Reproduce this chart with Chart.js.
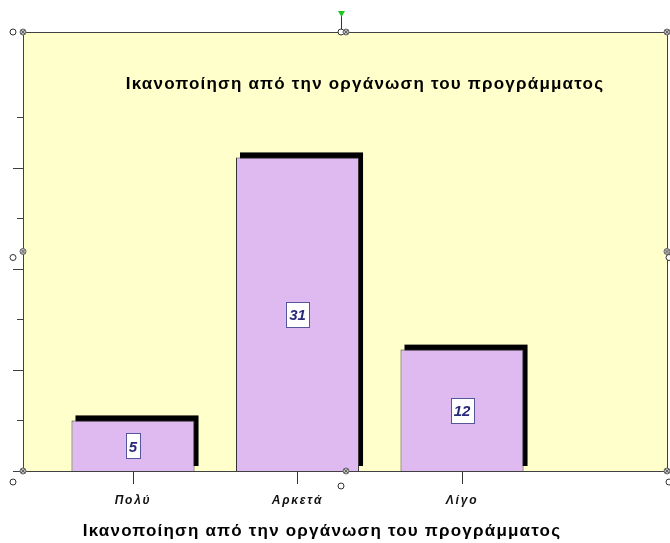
<!DOCTYPE html>
<html>
<head>
<meta charset="utf-8">
<script src="https://cdn.jsdelivr.net/npm/chart.js@4.4.1/dist/chart.umd.min.js"></script>
<style>
  body { margin: 0; background: #fff; }
</style>
</head>
<body>
<canvas id="chart" width="670" height="543"></canvas>
<script>
const categories = ["Πολύ", "Αρκετά", "Λίγο"];
const counts = [5, 31, 12];
const yTickValues = [0, 5, 10, 15, 20, 25, 30, 35];
const chartTitle = "Ικανοποίηση από την οργάνωση του προγράμματος";
const axisTitle = "Ικανοποίηση από την οργάνωση του προγράμματος";

// frame, shadows, value boxes, titles and the little editor handles
const decorations = {
  id: "decorations",
  beforeDraw(chart) {
    const ctx = chart.ctx;
    const a = chart.chartArea;
    ctx.letterSpacing = "1.8px";
    ctx.save();
    ctx.fillStyle = "#FFFFCC";
    ctx.fillRect(a.left, a.top, a.right - a.left, a.bottom - a.top);
    ctx.restore();
  },
  beforeDatasetsDraw(chart) {
    const ctx = chart.ctx;
    const meta = chart.getDatasetMeta(0);
    ctx.save();
    ctx.fillStyle = "#000";
    meta.data.forEach((bar) => {
      const w = bar.width;
      ctx.fillRect(bar.x - w / 2 + 4, bar.y - 5, w, bar.base - bar.y);
    });
    ctx.restore();
  },
  afterDatasetsDraw(chart) {
    const ctx = chart.ctx;
    const meta = chart.getDatasetMeta(0);
    ctx.save();
    ctx.letterSpacing = "0px";
    ctx.font = "italic bold 15px 'Liberation Sans', Arial, sans-serif";
    ctx.textAlign = "center";
    ctx.textBaseline = "middle";
    meta.data.forEach((bar, i) => {
      const txt = String(counts[i]);
      const cx = bar.x;
      const cy = (bar.y + bar.base) / 2;
      const tw = ctx.measureText(txt).width;
      const bw = Math.round(tw + 6);
      const bh = 25;
      const bx = Math.round(cx - bw / 2) + 0.5;
      const by = Math.round(cy - bh / 2) + 0.5;
      ctx.fillStyle = "#fff";
      ctx.fillRect(bx, by, bw, bh);
      ctx.strokeStyle = "#55559a";
      ctx.lineWidth = 1;
      ctx.strokeRect(bx, by, bw, bh);
      ctx.fillStyle = "#2a2a7a";
      ctx.fillText(txt, cx, cy + 2);
    });
    ctx.restore();
  },
  afterDraw(chart) {
    const ctx = chart.ctx;
    const a = chart.chartArea;
    const y = chart.scales.y;
    ctx.save();
    // plot frame
    ctx.strokeStyle = "#404040";
    ctx.lineWidth = 1;
    ctx.strokeRect(Math.round(a.left) + 0.5, Math.round(a.top) + 0.5,
      Math.round(a.right - a.left), Math.round(a.bottom - a.top));
    // y ticks, long on tens
    yTickValues.forEach((v) => {
      const py = Math.round(y.getPixelForValue(v)) + 0.5;
      const len = v % 10 === 0 ? 10 : 6;
      ctx.beginPath();
      ctx.moveTo(a.left - len, py);
      ctx.lineTo(a.left, py);
      ctx.stroke();
    });
    // titles
    ctx.fillStyle = "#000";
    ctx.font = "bold 17px 'Liberation Sans', Arial, sans-serif";
    ctx.letterSpacing = "1.2px";
    ctx.textAlign = "center";
    ctx.textBaseline = "alphabetic";
    ctx.fillText(chartTitle, (a.left + a.right) / 2 + 20, a.top + 57);
    ctx.fillText(axisTitle, (a.left + a.right) / 2 - 23, 536);

    // handles
    const midX = (a.left + a.right) / 2;
    const midY = (a.top + a.bottom) / 2;
    const gray = [[a.left, a.top], [midX + 1, a.top], [a.right, a.top],
      [a.left, midY], [a.right, midY],
      [a.left, a.bottom], [midX + 1, a.bottom], [a.right, a.bottom]];
    const open = [[a.left - 10, a.top], [midX - 4, a.top], [a.left - 10, midY + 6],
      [a.right + 2, midY + 6], [a.left - 10, a.bottom + 11],
      [midX - 4, a.bottom + 15], [a.right + 2, a.bottom + 11]];
    // green rotate handle
    ctx.strokeStyle = "#333";
    ctx.beginPath();
    ctx.moveTo(midX - 3.5, 14);
    ctx.lineTo(midX - 3.5, a.top);
    ctx.stroke();
    ctx.fillStyle = "#1fc41f";
    ctx.beginPath();
    ctx.moveTo(midX - 7, 11);
    ctx.lineTo(midX, 11);
    ctx.lineTo(midX - 3.5, 17);
    ctx.closePath();
    ctx.fill();
    open.forEach(([hx, hy]) => {
      ctx.beginPath();
      ctx.arc(hx, hy, 3, 0, Math.PI * 2);
      ctx.fillStyle = "#fff";
      ctx.fill();
      ctx.strokeStyle = "#333";
      ctx.stroke();
    });
    gray.forEach(([hx, hy]) => {
      ctx.beginPath();
      ctx.arc(hx, hy, 3, 0, Math.PI * 2);
      ctx.fillStyle = "#bbb";
      ctx.fill();
      ctx.strokeStyle = "#666";
      ctx.stroke();
      ctx.beginPath();
      ctx.moveTo(hx - 2, hy - 2); ctx.lineTo(hx + 2, hy + 2);
      ctx.moveTo(hx + 2, hy - 2); ctx.lineTo(hx - 2, hy + 2);
      ctx.stroke();
    });
    ctx.restore();
  }
};

new Chart(document.getElementById("chart"), {
  type: "bar",
  data: {
    datasets: [{
      data: counts.map((v, i) => ({ x: i, y: v })),
      backgroundColor: "#DEBAF0",
      borderColor: "#333",
      borderWidth: 1,
      borderSkipped: "bottom",
      barPercentage: 0.748,
      categoryPercentage: 1
    }]
  },
  options: {
    responsive: false,
    animation: false,
    layout: { padding: { left: 23, top: 32, right: 3, bottom: 0 } },
    plugins: {
      legend: { display: false },
      tooltip: { enabled: false }
    },
    scales: {
      x: {
        type: "linear",
        offset: false,
        min: -0.6687,
        max: 3.246,
        afterBuildTicks: (s) => { s.ticks = categories.map((c, i) => ({ value: i })); },
        afterFit: (s) => { s.height = 72; },
        grid: { offset: false, drawOnChartArea: false, tickLength: 13, color: "#333" },
        border: { display: false },
        ticks: {
          callback: (v) => categories[v],
          autoSkip: false,
          maxRotation: 0,
          padding: 9,
          color: "#111",
          font: { family: "'Liberation Sans', Arial, sans-serif", size: 12, style: "italic", weight: "bold" }
        }
      },
      y: {
        min: 0,
        max: 43.4,
        afterFit: (s) => { s.width = 0; },
        grid: { display: false },
        border: { display: false },
        ticks: { display: false }
      }
    }
  },
  plugins: [decorations]
});
</script>
</body>
</html>
